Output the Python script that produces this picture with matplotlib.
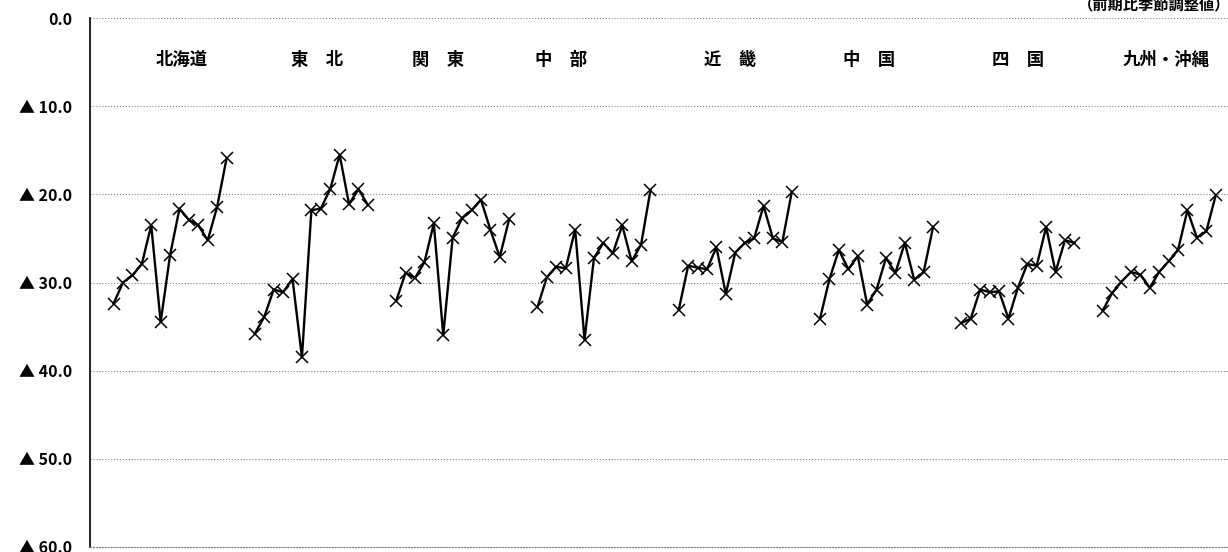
import numpy as np
import matplotlib.pyplot as plt

plt.rcParams['font.family'] = ['Noto Sans CJK JP', 'DejaVu Sans']

# regions and their 13 quarterly values (drawn downward, shown as ▲)
regions = ['北海道', '東　北', '関　東', '中　部', '近　畿', '中　国', '四　国', '九州・沖縄']
hokkaido = [32.4, 30.0, 29.2, 27.9, 23.5, 34.5, 26.9, 21.6, 22.9, 23.5, 25.2, 21.4, 15.9]
tohoku = [35.8, 33.9, 30.8, 31.1, 29.6, 38.5, 21.8, 21.6, 19.4, 15.5, 21.1, 19.4, 21.2]
kanto = [32.1, 28.9, 29.5, 27.7, 23.3, 36.0, 24.9, 22.7, 21.8, 20.6, 24.0, 27.1, 22.8]
chubu = [32.8, 29.4, 28.2, 28.4, 24.0, 36.5, 27.2, 25.5, 26.7, 23.5, 27.6, 25.7, 19.5]
kinki = [33.1, 28.1, 28.3, 28.5, 26.0, 31.3, 26.6, 25.5, 25.0, 21.3, 25.0, 25.4, 19.7]
chugoku = [34.1, 29.6, 26.3, 28.5, 27.0, 32.5, 30.8, 27.2, 28.9, 25.5, 29.7, 28.8, 23.7]
shikoku = [34.6, 34.1, 30.8, 31.1, 31.0, 34.1, 30.6, 27.9, 28.1, 23.7, 28.8, 25.2, 25.5]
kyushu = [33.2, 31.2, 29.9, 28.8, 29.1, 30.6, 28.8, 27.6, 26.3, 21.8, 24.9, 24.2, 20.1]
series = [hokkaido, tohoku, kanto, chubu, kinki, chugoku, shikoku, kyushu]

yticks = [0, 10, 20, 30, 40, 50, 60]
ytick_labels = ['0.0', '▲ 10.0', '▲ 20.0', '▲ 30.0', '▲ 40.0', '▲ 50.0', '▲ 60.0']

# label centres in pixels
label_px = [182, 317, 438, 561, 730, 869, 1018, 1166]

fig = plt.figure(figsize=(12.28, 5.52), dpi=100)
ax = fig.add_axes([90 / 1228, 1 - 546.7 / 552, 1 - 90 / 1228, (546.7 - 18.3) / 552])

step = 9.42
for i, vals in enumerate(series):
    x = np.arange(len(vals)) + 15 * i + 2
    ax.plot(x, vals, color='black', lw=1.7, marker='x', ms=8.5, mew=1.1)

for name, px in zip(regions, label_px):
    ax.text((px - 90) / step - 0.5, 4.7, name, ha='center', va='center',
            fontsize=12.5, fontweight='bold')

ax.set_xlim(-0.5, 1138 / step - 0.5)
ax.set_ylim(60, 0)
ax.set_yticks(yticks)
ax.set_yticklabels(ytick_labels, fontsize=11.5, fontweight='bold')
ax.set_xticks([])
ax.tick_params(axis='y', length=0, pad=13)
ax.grid(axis='y', color='gray', ls=':', lw=0.8)

for side in ['top', 'right']:
    ax.spines[side].set_visible(False)
ax.spines['bottom'].set_linestyle(':')
ax.spines['bottom'].set_color('gray')
ax.spines['bottom'].set_linewidth(0.8)
ax.spines['left'].set_linewidth(1.2)

fig.text(1.002, 1 - 4 / 552, '（前期比季節調整値）', ha='right', va='center',
         fontsize=11, fontweight='bold')

fig.savefig('out.png', dpi=100)
